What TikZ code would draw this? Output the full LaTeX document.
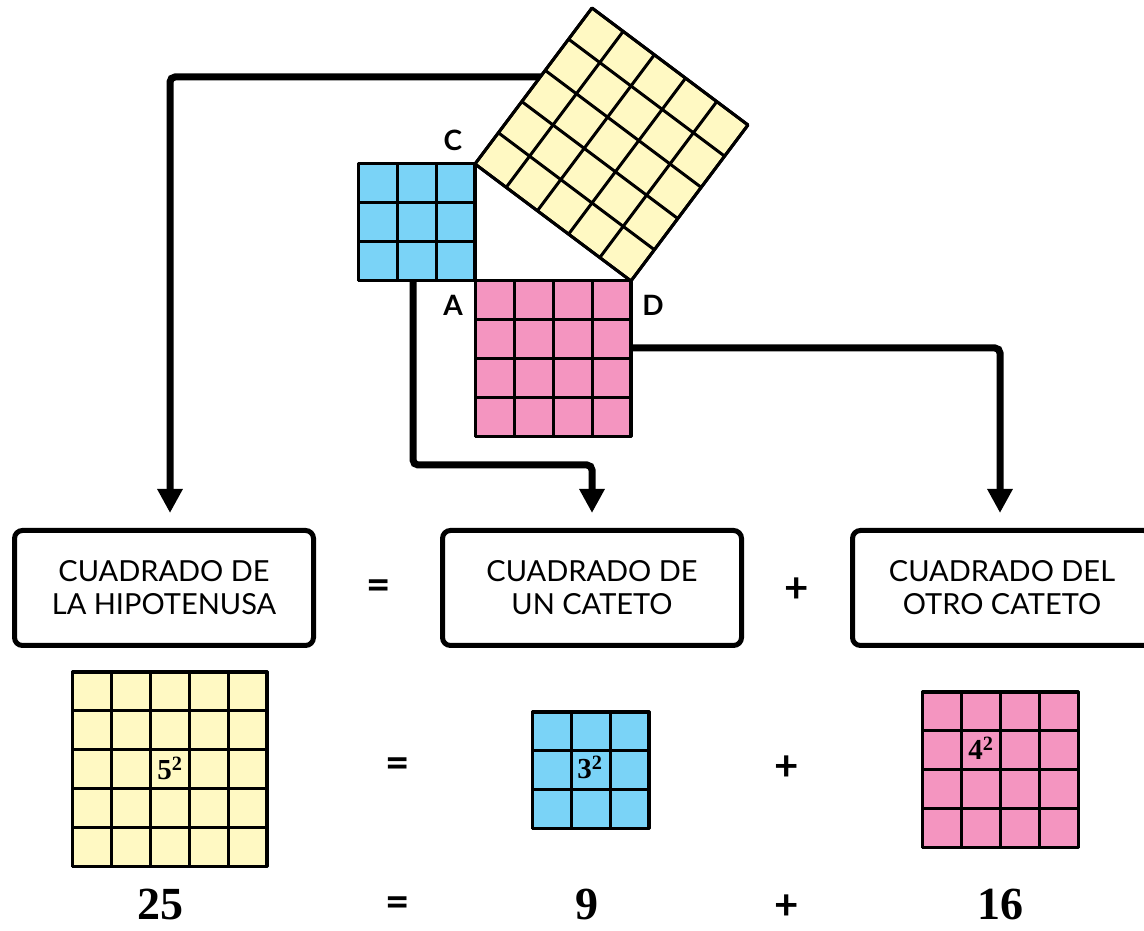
\documentclass[tikz,border=0pt]{standalone}
\usepackage{fontspec}
\setmainfont{Lato}
\newfontfamily\numfont{Liberation Serif}
\usetikzlibrary{arrows.meta, positioning, calc}
\definecolor{hipo}{HTML}{FFF9C3}
\definecolor{cateto}{HTML}{7AD3F7}
\definecolor{otro}{HTML}{F495C0}

% cuadro de n x n celdas con esquina inferior izquierda en #1
\newcommand{\cuadro}[3]{%
  \begin{scope}[shift={#1}]
    \fill[#3] (0,0) rectangle (39*#2,39*#2);
    \draw[cell, step=39pt] (0,0) grid (39*#2,39*#2);
    \draw[cell] (0,0) rectangle (39*#2,39*#2);
  \end{scope}}

\begin{document}
\begin{tikzpicture}[x=1pt, y=1pt,
    cell/.style={draw=black, line width=3pt, line join=round},
    link/.style={line width=7pt, rounded corners=5pt, -{Triangle[length=24pt, width=24pt]}},
    rotulo/.style={draw, line width=5pt, rounded corners=8pt, minimum width=299pt,
        minimum height=115pt, align=center, font=\fontsize{29}{33}\selectfont},
    op/.style={inner sep=0pt, font=\bfseries\fontsize{42}{42}\selectfont},
    num/.style={inner sep=0pt, font=\numfont\bfseries\fontsize{46}{46}\selectfont},
    expo/.style={inner sep=0pt, font=\numfont\bfseries\fontsize{29}{29}\selectfont},
    vertice/.style={font=\bfseries\fontsize{28}{28}\selectfont}]
    \useasboundingbox (0,0) rectangle (1144,931);

    % triangulo
    \coordinate (C) at (475,767);
    \coordinate (A) at (475,650);
    \coordinate (D) at (631,650);

    % rotulos
    \node[rotulo] (hipotenusa) at (164,343) {CUADRADO DE\\LA HIPOTENUSA};
    \node[rotulo] (cateto) at (592,343) {CUADRADO DE\\UN CATETO};
    \node[rotulo] (otro) at (1002,343) {CUADRADO DEL\\OTRO CATETO};
    \node[op] (igual1) at (379,341) {=};
    \node[op] (mas1) at (797,341) {+};

    % flechas
    \coordinate (hipo-sal) at (546,854);
    \coordinate (cat-sal) at (413,660);
    \coordinate (otro-sal) at (625,583);
    \draw[link] (hipo-sal) -| ([xshift=6pt, yshift=15pt]hipotenusa.north);
    \draw[link] (cat-sal) |- ([yshift=63pt]cateto.north) -- ([yshift=15pt]cateto.north);
    \draw[link] (otro-sal) -| ([xshift=-2pt, yshift=15pt]otro.north);

    % cuadros sobre los lados
    \cuadro{(358,650)}{3}{cateto}
    \cuadro{(475,494)}{4}{otro}
    \begin{scope}[shift={(C)}, rotate=-36.87]
        \cuadro{(0,0)}{5}{hipo}
    \end{scope}
    \node[vertice] (lC) at (453,791) {C};
    \node[vertice] (lA) at (453,626) {A};
    \node[vertice] (lD) at (653,626) {D};

    % cuadros de abajo
    \cuadro{(72,64)}{5}{hipo}
    \cuadro{(532,102)}{3}{cateto}
    \cuadro{(922,83)}{4}{otro}
    \node[expo] (e5) at (170,163) {5\textsuperscript{2}};
    \node[expo] (e3) at (590,164) {3\textsuperscript{2}};
    \node[expo] (e4) at (981,183) {4\textsuperscript{2}};
    \node[op] (igual2) at (398,163) {=};
    \node[op] (mas2) at (787,163) {+};

    % numeros
    \node[num] (n25) at (160,26) {25};
    \node[op] (igual3) at (398,24) {=};
    \node[num] (n9) at (587,26) {9};
    \node[op] (mas3) at (787,24) {+};
    \node[num] (n16) at (1000,26) {16};
\end{tikzpicture}
\end{document}
